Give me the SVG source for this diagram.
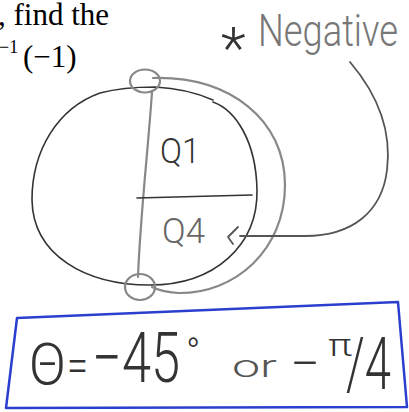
<svg xmlns="http://www.w3.org/2000/svg" width="409" height="412" viewBox="0 0 409 412">
  <style>
    .serif { font-family: "Liberation Serif", "Times New Roman", serif; fill: #000; }
    .hand { font-family: Roboto, "Liberation Sans", Arial, sans-serif; font-weight: 300; }
    .pencil { fill: none; stroke: #555; stroke-width: 1.8; stroke-linecap: round; stroke-linejoin: round; }
    .pencil-light { fill: none; stroke: #888; stroke-width: 2.2; stroke-linecap: round; stroke-linejoin: round; }
    .ink { fill: none; stroke: #333; stroke-width: 1.6; stroke-linecap: round; stroke-linejoin: round; }
  </style>
  <rect width="409" height="412" fill="#fff"/>

  <g id="question-text">
    <text class="serif" x="-2" y="25" font-size="31">, find the</text>
    <text class="serif" x="-1" y="53" font-size="18">−1</text>
    <text class="serif" x="23" y="67" font-size="31">(−1)</text>
  </g>

  <g id="unit-circle">
    <path class="ink" d="M 100,93 C 58,108 32,150 32,200 C 33,255 85,285 150,285 C 215,285 258,245 257,190 C 256,140 235,110 213,102 M 213,100 C 195,92 175,88 155,87 C 135,87 115,89 100,93"/>
  </g>

  <g id="reflection-arc">
    <path class="pencil-light" d="M 153,78 C 230,76 285,120 285,185 C 285,250 235,294 178,293 C 166,292 158,290 152,287"/>
  </g>

  <g id="axes">
    <path class="pencil-light" d="M 152,92 C 148,150 140,220 138,277"/>
    <path class="ink" d="M 137,198 L 252,195"/>
  </g>

  <g id="point-top">
    <ellipse class="pencil-light" cx="145" cy="81" rx="15" ry="11.5"/>
  </g>
  <g id="point-bottom">
    <ellipse class="pencil-light" cx="140" cy="287" rx="15" ry="13"/>
  </g>

  <g id="label-q1">
    <text class="hand" x="160" y="163" font-size="35" fill="#333" textLength="40" lengthAdjust="spacingAndGlyphs">Q1</text>
  </g>
  <g id="label-q4">
    <text class="hand" x="162" y="243" font-size="35" fill="#666" textLength="43" lengthAdjust="spacingAndGlyphs">Q4</text>
  </g>

  <g id="note-negative">
    <text class="hand" x="221" y="68" font-size="58" fill="#333">*</text>
    <text class="hand" x="258" y="46" font-size="45" fill="#777" textLength="140" lengthAdjust="spacingAndGlyphs">Negative</text>
  </g>

  <g id="connectors">
    <path class="pencil" d="M 350,62 C 378,95 392,130 387,170 C 382,212 352,236 305,236 L 240,236"/>
    <path class="pencil" d="M 238,227 L 228,237 L 233,244"/>
  </g>

  <g id="answer-box">
    <path d="M 17,318 L 398,302 L 407,407 L 6,408 Z" fill="none" stroke="#2b3fcf" stroke-width="2.5" stroke-linejoin="round"/>
    <g class="hand" fill="#333">
      <text x="29" y="384" font-size="58" textLength="37" lengthAdjust="spacingAndGlyphs">Θ</text>
      <text x="67" y="382" font-size="48" textLength="21" lengthAdjust="spacingAndGlyphs">=</text>
      <text x="92" y="382" font-size="70" textLength="88" lengthAdjust="spacingAndGlyphs">−45</text>
      <text x="186" y="366" font-size="38">°</text>
      <text x="232" y="377" font-size="32" fill="#555" textLength="45" lengthAdjust="spacingAndGlyphs">or</text>
      <text x="290" y="380" font-size="48" textLength="30" lengthAdjust="spacingAndGlyphs">−</text>
      <text x="328" y="356" font-size="32" textLength="24" lengthAdjust="spacingAndGlyphs">π</text>
      <text x="346" y="389" font-size="72" textLength="45" lengthAdjust="spacingAndGlyphs">/4</text>
    </g>
  </g>
</svg>
